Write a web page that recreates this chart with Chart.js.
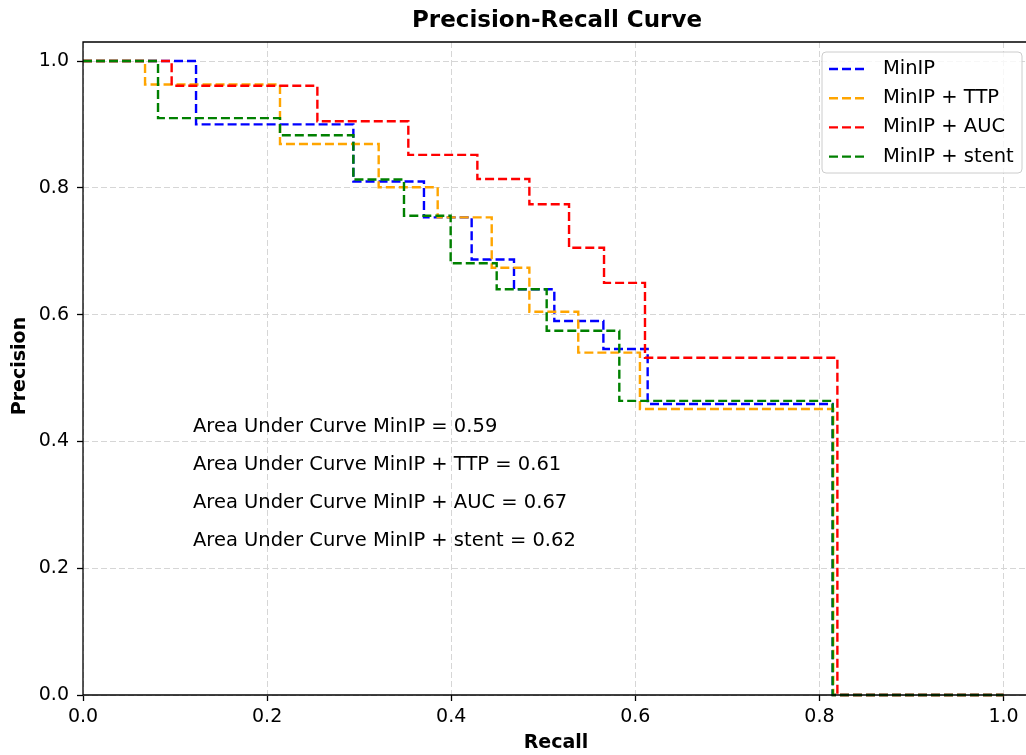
<!DOCTYPE html>
<html>
<head>
<meta charset="utf-8">
<script src="https://cdn.jsdelivr.net/npm/chart.js@4.4.1/dist/chart.umd.min.js"></script>
<style>
  html, body { margin: 0; padding: 0; background: #fff; }
  canvas { display: block; }
</style>
</head>
<body>
<canvas id="pr-chart" width="1026" height="755"></canvas>
<script>
// legend labels and line colours
var seriesNames = ['MinIP', 'MinIP + TTP', 'MinIP + AUC', 'MinIP + stent'];
var seriesColors = ['#0000ff', '#ffa500', '#ff0000', '#008000'];

// recall / precision corners (precision holds until the next recall)
var recallMinIP    = [0, 0.1228, 0.2937, 0.3704, 0.4222, 0.4682, 0.5120, 0.5653, 0.6134, 0.8144, 1.0];
var precisionMinIP = [1.0, 0.900, 0.810, 0.7534, 0.687, 0.640, 0.590, 0.5457, 0.459, 0.0, 0.0];

var recallTTP    = [0, 0.0674, 0.2140, 0.3212, 0.3853, 0.4440, 0.4849, 0.5380, 0.6050, 0.8150, 1.0];
var precisionTTP = [1.0, 0.963, 0.869, 0.801, 0.7534, 0.674, 0.6046, 0.540, 0.451, 0.0, 0.0];

var recallAUC    = [0, 0.0963, 0.2546, 0.3534, 0.4284, 0.4849, 0.5280, 0.5660, 0.6105, 0.8195, 1.0];
var precisionAUC = [1.0, 0.961, 0.905, 0.852, 0.814, 0.774, 0.7055, 0.650, 0.532, 0.0, 0.0];

var recallStent    = [0, 0.0815, 0.2140, 0.2937, 0.3487, 0.3994, 0.4494, 0.5037, 0.5826, 0.8144, 1.0];
var precisionStent = [1.0, 0.910, 0.883, 0.813, 0.756, 0.681, 0.640, 0.5746, 0.464, 0.0, 0.0];

// area under curve notes
var aucValues = ['0.59', '0.61', '0.67', '0.62'];

var xTicks = [0, 0.2, 0.4, 0.6, 0.8, 1.0];
var yTicks = [0, 0.2, 0.4, 0.6, 0.8, 1.0];

var FONT = "'DejaVu Sans', sans-serif";

function toPoints(rs, ps) {
  var pts = [];
  for (var i = 0; i < rs.length; i++) {
    pts.push({ x: rs[i], y: ps[i] });
  }
  return pts;
}

var allRecall = [recallMinIP, recallTTP, recallAUC, recallStent];
var allPrecision = [precisionMinIP, precisionTTP, precisionAUC, precisionStent];

var datasets = seriesNames.map(function (name, i) {
  return {
    label: name,
    data: toPoints(allRecall[i], allPrecision[i]),
    borderColor: seriesColors[i],
    backgroundColor: seriesColors[i],
    borderWidth: 2.4,
    borderDash: [9, 4],
    pointRadius: 0,
    stepped: 'before',
    fill: false,
    clip: false,
    // later series drawn on top, like matplotlib
    order: seriesNames.length - i
  };
});

var decorations = {
  id: 'decorations',
  afterDatasetsDraw: function (chart) {
    var ctx = chart.ctx;
    var area = chart.chartArea;
    var xs = chart.scales.x;
    var ys = chart.scales.y;
    ctx.save();

    // frame (right spine falls outside the picture)
    ctx.setLineDash([]);
    ctx.strokeStyle = '#000';
    ctx.lineWidth = 1.3;
    ctx.beginPath();
    ctx.moveTo(area.right, area.top);
    ctx.lineTo(area.left, area.top);
    ctx.lineTo(area.left, area.bottom);
    ctx.lineTo(area.right, area.bottom);
    ctx.stroke();

    // AUC notes
    ctx.fillStyle = '#000';
    ctx.font = '19.5px ' + FONT;
    ctx.textAlign = 'left';
    ctx.textBaseline = 'middle';
    var noteY = [0.423, 0.363, 0.303, 0.243];
    for (var i = 0; i < seriesNames.length; i++) {
      ctx.fillText('Area Under Curve ' + seriesNames[i] + ' = ' + aucValues[i],
        xs.getPixelForValue(0.1195), ys.getPixelForValue(noteY[i]));
    }

    // legend box
    var bx = area.right - 204, by = area.top + 10, bw = 200, bh = 121, r = 4;
    ctx.beginPath();
    ctx.moveTo(bx + r, by);
    ctx.arcTo(bx + bw, by, bx + bw, by + bh, r);
    ctx.arcTo(bx + bw, by + bh, bx, by + bh, r);
    ctx.arcTo(bx, by + bh, bx, by, r);
    ctx.arcTo(bx, by, bx + bw, by, r);
    ctx.closePath();
    ctx.fillStyle = 'rgba(255,255,255,0.8)';
    ctx.fill();
    ctx.strokeStyle = '#cccccc';
    ctx.lineWidth = 1;
    ctx.stroke();

    for (var j = 0; j < seriesNames.length; j++) {
      var ry = by + 17 + j * 29.2;
      ctx.strokeStyle = seriesColors[j];
      ctx.lineWidth = 2.4;
      ctx.setLineDash([9, 4]);
      ctx.beginPath();
      ctx.moveTo(bx + 7, ry);
      ctx.lineTo(bx + 45, ry);
      ctx.stroke();
      ctx.setLineDash([]);
      ctx.fillStyle = '#000';
      ctx.fillText(seriesNames[j], bx + 61, ry);
    }
    ctx.restore();
  },
  afterDraw: function (chart) {
    var ctx = chart.ctx;
    ctx.save();
    ctx.fillStyle = '#000';
    ctx.textAlign = 'center';
    ctx.textBaseline = 'middle';
    ctx.font = 'bold 23px ' + FONT;
    ctx.fillText('Precision-Recall Curve', 557, 21);
    ctx.font = 'bold 19px ' + FONT;
    ctx.fillText('Recall', 556, 743);
    ctx.translate(20, 366);
    ctx.rotate(-Math.PI / 2);
    ctx.fillText('Precision', 0, 0);
    ctx.restore();
  }
};

var gridStyle = {
  color: '#d6d6d6',
  lineWidth: 1,
  tickColor: '#000',
  tickLength: 6,
  tickWidth: 1.3
};

new Chart(document.getElementById('pr-chart'), {
  type: 'line',
  data: { datasets: datasets },
  options: {
    responsive: false,
    animation: false,
    layout: { padding: { top: 42, right: 0, left: 0, bottom: 0 } },
    plugins: {
      legend: { display: false },
      tooltip: { enabled: false },
      title: { display: false }
    },
    scales: {
      x: {
        type: 'linear',
        min: 0,
        max: 1.0244,
        afterFit: function (s) { s.height = 60; },
        afterBuildTicks: function (s) { s.ticks = xTicks.map(function (v) { return { value: v }; }); },
        ticks: {
          color: '#000',
          font: { family: FONT, size: 19 },
          padding: 5,
          maxRotation: 0,
          callback: function (v) { return v.toFixed(1); }
        },
        grid: gridStyle,
        border: { display: false, dash: [6, 3] }
      },
      y: {
        type: 'linear',
        min: 0,
        max: 1.03,
        afterFit: function (s) { s.width = 83; },
        afterBuildTicks: function (s) { s.ticks = yTicks.map(function (v) { return { value: v }; }); },
        ticks: {
          color: '#000',
          font: { family: FONT, size: 19 },
          padding: 8,
          callback: function (v) { return v.toFixed(1); }
        },
        grid: gridStyle,
        border: { display: false, dash: [6, 3] }
      }
    }
  },
  plugins: [decorations]
});
</script>
</body>
</html>
